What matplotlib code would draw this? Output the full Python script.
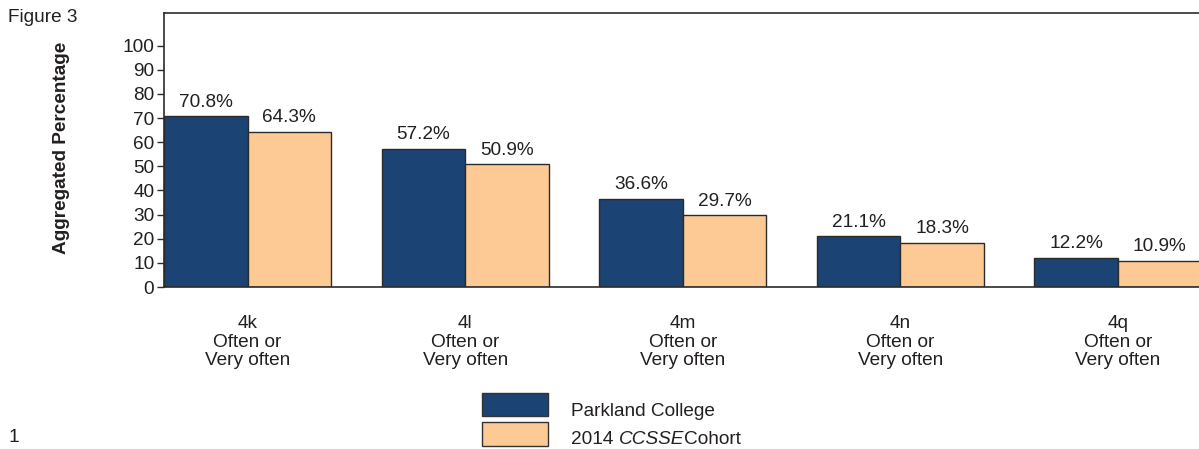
import matplotlib
matplotlib.use("Agg")
import matplotlib.pyplot as plt
from matplotlib.patches import Rectangle
import numpy as np

plt.rcParams['font.family'] = ['Liberation Sans', 'DejaVu Sans']

categories = ["4k\nOften or\nVery often", "4l\nOften or\nVery often", "4m\nOften or\nVery often",
              "4n\nOften or\nVery often", "4q\nOften or\nVery often"]
parkland = [70.8, 57.2, 36.6, 21.1, 12.2]
cohort = [64.3, 50.9, 29.7, 18.3, 10.9]
series_names = ["Parkland College", "2014 CCSSE Cohort"]
yticks = [0, 10, 20, 30, 40, 50, 60, 70, 80, 90, 100]

DARK = '#1b4373'
LIGHT = '#fdca96'
EDGE = '#2b2b2b'
TXT = '#231f20'
FS = 13.7

fig = plt.figure(figsize=(11.99, 4.49), dpi=100)
ax = fig.add_axes([164/1199, 1-287/449, 1-164/1199, (287-13)/449])

x = np.arange(len(categories))
w = 0.384
b1 = ax.bar(x - w/2, parkland, w, color=DARK, edgecolor=EDGE, linewidth=1)
b2 = ax.bar(x + w/2, cohort, w, color=LIGHT, edgecolor=EDGE, linewidth=1)
for bars, vals in ((b1, parkland), (b2, cohort)):
    for r, v in zip(bars, vals):
        ax.annotate(f"{v:.1f}%", (r.get_x() + r.get_width()/2, v), xytext=(0, 4),
                    textcoords='offset points', ha='center', va='bottom',
                    fontsize=FS, color=TXT)

ax.set_xlim(-w, (1199-248)/217.5)
ax.set_ylim(0, 113.5)
ax.set_yticks(yticks)
ax.set_yticklabels([str(t) for t in yticks], fontsize=FS, color=TXT)
ax.set_xticks(x)
ax.set_xticklabels(categories, fontsize=FS, color=TXT, linespacing=1.09)
ax.tick_params(axis='x', length=0, pad=20.5)
ax.tick_params(axis='y', length=5, width=1, color=EDGE, pad=2, direction='out')
ax.spines['right'].set_visible(False)
for s in ('left', 'bottom', 'top'):
    ax.spines[s].set_color(EDGE)
    ax.spines[s].set_linewidth(1.2)

fig.text(61/1199, 1-148/449, "Aggregated Percentage", rotation=90, ha='center', va='center',
         fontsize=FS, fontweight='bold', color=TXT)
fig.text(8/1199, 1-18/449, "Figure 3", ha='left', va='center', fontsize=FS, color=TXT)
fig.text(8/1199, 1-437/449, "1", ha='left', va='center', fontsize=FS, color=TXT)

# legend
for (y0, y1), col in (((393, 416), DARK), ((422, 446), LIGHT)):
    fig.patches.append(Rectangle((482/1199, 1-y1/449), (548-482)/1199, (y1-y0)/449,
                                 transform=fig.transFigure, facecolor=col,
                                 edgecolor='#333333', linewidth=1))
fig.text(571/1199, 1-411/449, series_names[0], ha='left', va='center', fontsize=FS, color=TXT)

renderer = fig.canvas.get_renderer()
xpos = 571/1199
parts = [("2014 ", 'normal'), ("CCSSE", 'italic'), ("Cohort", 'normal')]
for s, st in parts:
    t = fig.text(xpos, 1-439/449, s, ha='left', va='center', fontsize=FS, color=TXT, style=st)
    bb = t.get_window_extent(renderer)
    xpos += bb.width / fig.bbox.width

fig.savefig("out.png", dpi=100)
